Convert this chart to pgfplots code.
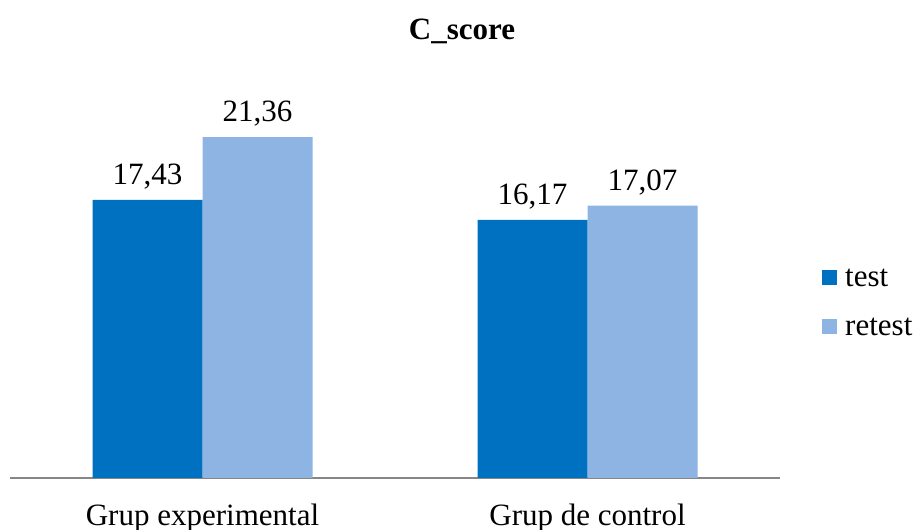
\documentclass[border=0pt]{standalone}
\usepackage{fontspec}
\setmainfont{Liberation Serif}
\usepackage{pgfplots}
\pgfplotsset{compat=1.18}

\definecolor{testblue}{RGB}{0,112,192}
\definecolor{retestblue}{RGB}{142,180,227}
\definecolor{axisgray}{RGB}{134,134,134}

\begin{document}
\begin{tikzpicture}
\fontsize{23.25pt}{28pt}\selectfont
\begin{axis}[
    at={(0pt,0pt)}, anchor=south west,
    width=577.5pt, height=299.25pt,
    scale only axis,
    ybar=0pt,
    bar width=82.5pt,
    xmin=-0.5, xmax=1.5,
    ymin=0, ymax=25,
    axis x line*=bottom,
    axis y line=none,
    x axis line style={axisgray, line width=1.5pt},
    xtick=data,
    xticklabels={Grup experimental, Grup de control},
    major tick length=0pt,
    xticklabel style={font=\fontsize{23.25pt}{28pt}\selectfont, yshift=-11.75pt},
    nodes near coords,
    every node near coord/.append style={font=\fontsize{23.25pt}{28pt}\selectfont,
        /pgf/number format/.cd, fixed, fixed zerofill, precision=2, use comma, assume math mode=true},
    legend image code/.code={\fill[#1] (0pt,0.75pt) rectangle (11.25pt,12pt);},
    legend style={draw=none, fill=none, inner sep=0pt,
        at={(axis description cs:1.0545,0.4348)}, anchor=west,
        nodes={inner sep=0pt, anchor=base west, font=\fontsize{23.25pt}{28pt}\selectfont},
        row sep=20.25pt, column sep=6pt},
    legend cell align=left,
]
\addplot[fill=testblue, draw=none] coordinates {(0,17.43) (1,16.17)};
\addplot[fill=retestblue, draw=none] coordinates {(0,21.36) (1,17.07)};
\legend{test, retest}
\end{axis}
\node[anchor=base, font=\bfseries\fontsize{23.25pt}{28pt}\selectfont] at (339pt,328.5pt) {C\_score};
\pgfresetboundingbox
\path[use as bounding box] (-7.5pt,-39pt) rectangle (679.5pt,358.5pt);
\end{tikzpicture}
\end{document}
